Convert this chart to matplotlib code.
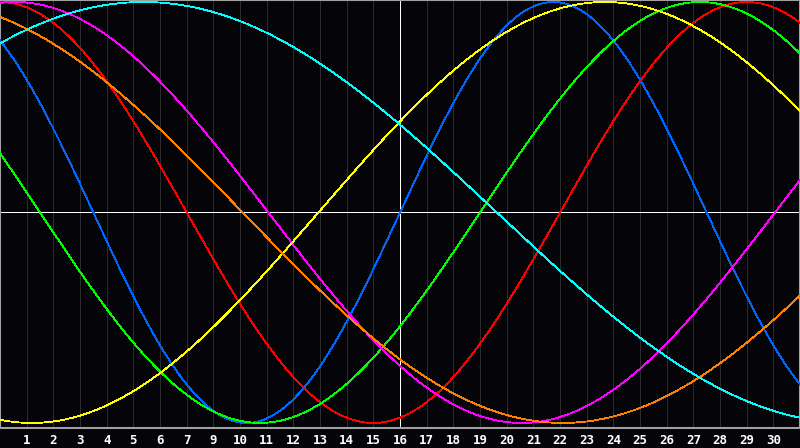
import numpy as np
import matplotlib
matplotlib.use('Agg')
import matplotlib.pyplot as plt

# 生物節律週期 (天) 與每條曲線向上穿越零點的日期 (從圖上量得)
periods = [23, 28, 33, 38, 43, 48, 53]
zero_up = [15.0, 21.0, 18.0, 29.06, 11.94, 33.1, 45.13]
colors = ['#0064ff', '#ff0000', '#00ff00', '#ff00ff', '#ffff00', '#ff8000', '#00ffff']

# x 軸刻度標籤 (原圖跳過 8)
tick_pos = list(range(1, 30))
tick_labels = [str(d) for d in range(1, 8)] + [str(d) for d in range(9, 31)]

days = 30
t = np.linspace(0, days, 801)

fig = plt.figure(figsize=(8, 4.48), dpi=100, facecolor='#050408')
ax = fig.add_axes([0, 20 / 448, 1, 428 / 448])
ax.set_facecolor('#050408')

# 格線
for x in tick_pos:
    ax.axvline(x, color='#2c2c2c', lw=0.72, zorder=1, antialiased=False)

# 曲線
for p, t0, c in zip(periods, zero_up, colors):
    ax.plot(t, np.sin(2 * np.pi * (t - t0) / p), color=c, lw=0.6,
            zorder=3, antialiased=False)

# 中心十字線
ax.axhline(0, color='white', lw=0.72, zorder=2, antialiased=False)
ax.axvline(days / 2, color='white', lw=0.72, zorder=2, antialiased=False)

ax.set_xlim(0, days)
ax.set_ylim(-1.024, 1.0095)

for s in ['top', 'left', 'bottom', 'right']:
    ax.spines[s].set_color('#a0a0a0')
    ax.spines[s].set_linewidth(1.5)

ax.set_yticks([])
ax.set_xticks(tick_pos)
ax.set_xticklabels(tick_labels, color='white', fontsize=9, fontweight='bold',
                   family='DejaVu Sans Mono')
ax.tick_params(axis='x', length=0, pad=4)

fig.savefig('out.png', dpi=100, facecolor=fig.get_facecolor())
